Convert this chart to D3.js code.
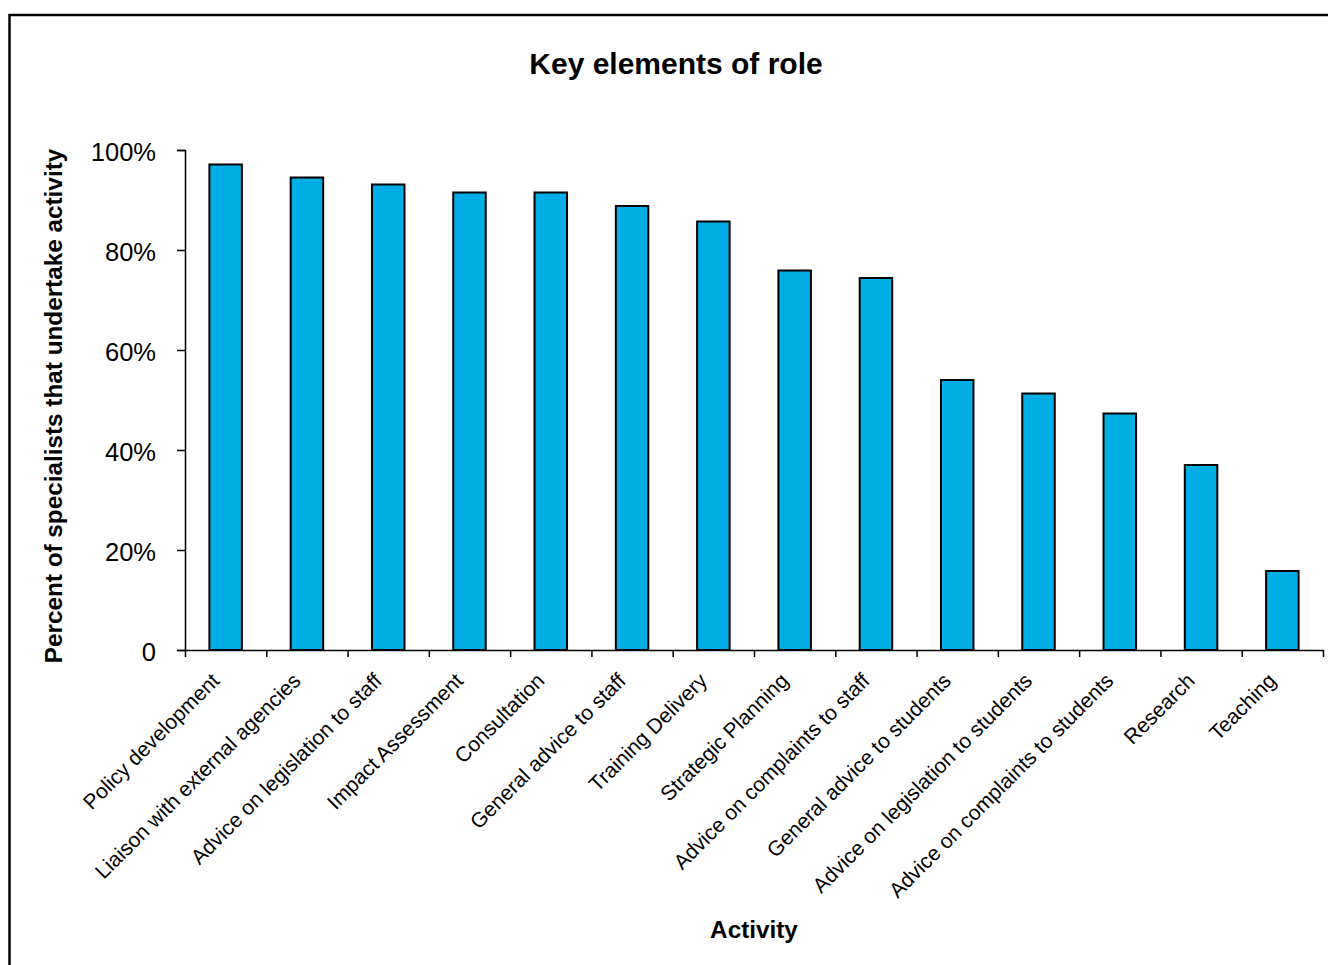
<!DOCTYPE html>
<html><head><meta charset="utf-8">
<script src="https://cdn.jsdelivr.net/npm/d3@7"></script>
<style>body{margin:0;background:#fff}svg{display:block}text{font-family:"Liberation Sans",Arial,sans-serif}</style>
</head><body><svg id="c" width="1328" height="965"></svg>
<script>
const categories = ["Policy development","Liaison with external agencies","Advice on legislation to staff","Impact Assessment","Consultation","General advice to staff","Training Delivery","Strategic Planning","Advice on complaints to staff","General advice to students","Advice on legislation to students","Advice on complaints to students","Research","Teaching"];
const values = [97.1,94.5,93.1,91.5,91.5,88.8,85.7,75.9,74.4,54.0,51.3,47.3,37.0,15.8];
const yTicks = [0,20,40,60,80,100];
const yTickLabels = ["0","20%","40%","60%","80%","100%"];
const title = "Key elements of role";
const xTitle = "Activity";
const yTitle = "Percent of specialists that undertake activity";

const svg = d3.select("#c");
svg.append("rect").attr("x",9.5).attr("y",15).attr("width",1400).attr("height",1000)
  .attr("fill","#fff").attr("stroke","#000").attr("stroke-width",2.5);

const x0=185,x1=1323,y0=650,y1=150;
const x = d3.scaleBand().domain(categories).range([x0,x1]).paddingInner(0.6).paddingOuter(0.3);
const xb = d3.scaleLinear().domain([0,categories.length]).range([x0,x1]);
const y = d3.scaleLinear().domain([0,100]).range([y0,y1]);

svg.append("text").attr("x",676).attr("y",74).attr("text-anchor","middle")
  .attr("font-weight","bold").attr("font-size",30).text(title);

// bars
svg.append("g").selectAll("rect").data(categories).join("rect")
  .attr("x",d=>x(d)).attr("width",x.bandwidth())
  .attr("y",(d,i)=>y(values[i])).attr("height",(d,i)=>y(0)-y(values[i]))
  .attr("fill","#00ADE4").attr("stroke","#000").attr("stroke-width",2);

// y axis
const ya = svg.append("g").attr("transform",`translate(${x0},0)`)
  .call(d3.axisLeft(y).tickValues(yTicks).tickFormat((d,i)=>yTickLabels[i]).tickSize(8).tickPadding(21));
ya.select(".domain").attr("stroke","#000").attr("stroke-width",1.5);
ya.selectAll(".tick line").attr("stroke","#000").attr("stroke-width",1.5);
ya.selectAll("text").attr("font-size",25.5).attr("fill","#000").attr("dy","0.42em")
  .attr("font-family","Liberation Sans, Arial, sans-serif");

// x axis line and ticks at boundaries
const xa = svg.append("g").attr("transform",`translate(0,${y0})`)
  .call(d3.axisBottom(xb).tickValues(d3.range(categories.length+1)).tickFormat("").tickSize(7).tickSizeOuter(0));
xa.select(".domain").attr("stroke","#000").attr("stroke-width",1.5);
xa.selectAll(".tick line").attr("stroke","#000").attr("stroke-width",1.5);

// x labels
svg.append("g").selectAll("text").data(categories).join("text")
  .attr("transform",d=>`translate(${x(d)+x.bandwidth()/2-5},${y0+32}) rotate(-45)`)
  .attr("text-anchor","end").attr("font-size",21).text(d=>d);

svg.append("text").attr("x",754).attr("y",938).attr("text-anchor","middle")
  .attr("font-weight","bold").attr("font-size",24.3).text(xTitle);
svg.append("text").attr("transform",`translate(62,406) rotate(-90)`).attr("text-anchor","middle")
  .attr("font-weight","bold").attr("font-size",24.3).text(yTitle);
</script></body></html>
